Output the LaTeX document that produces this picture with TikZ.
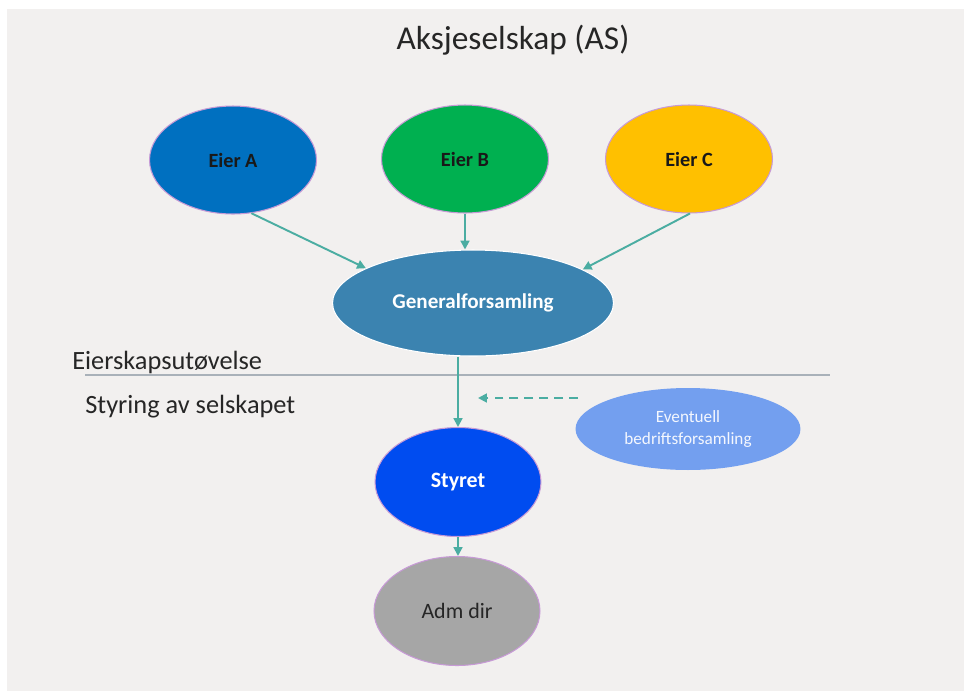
\documentclass[tikz,border=0pt]{standalone}
\usepackage{fontspec}
\setmainfont{Carlito}
\usetikzlibrary{arrows.meta,positioning,shapes.geometric}
\definecolor{bggrey}{HTML}{F2F0EF}
\definecolor{eierA}{HTML}{0070C0}
\definecolor{eierB}{HTML}{00B050}
\definecolor{eierC}{HTML}{FFC000}
\definecolor{genfors}{HTML}{3B83B0}
\definecolor{styret}{HTML}{004CF0}
\definecolor{admdir}{HTML}{A6A6A6}
\definecolor{bedrift}{HTML}{739FEF}
\definecolor{rim}{HTML}{C79AD6}
\definecolor{arrowteal}{HTML}{4BADA2}
\definecolor{divider}{HTML}{A9B1B9}
\tikzset{%
	blob/.style     = {draw=rim, line width=0.6pt, ellipse, inner sep=0pt, text centered, align=center},
	owner/.style    = {blob, minimum width=3.34cm, minimum height=2.16cm, text=black!90, font=\bfseries\fontsize{11.5}{13}\selectfont},
	body/.style     = {blob, minimum width=3.32cm, minimum height=2.18cm},
	label/.style    = {inner sep=0pt, anchor=west, text=black!85, font=\fontsize{15}{17}\selectfont},
	arrow/.style    = {draw=arrowteal, line width=1.1pt, -{Triangle[length=5pt,width=5pt]}},
	dasharrow/.style= {arrow, dash pattern=on 5pt off 3.5pt},
}
\begin{document}
\begin{tikzpicture}[x=0.02cm,y=-0.02cm]
	\useasboundingbox (0,0) rectangle (964,691);
	\fill[bggrey] (7,9) rectangle (964,691);
	
	\node[text=black!85, font=\fontsize{19}{22}\selectfont] (title) at (513,40) {Aksjeselskap (AS)};
	
	% owners
	\node[owner, fill=eierA] (A) at (233,160) {Eier A};
	\node[owner, fill=eierB] (B) at (465,159) {Eier B};
	\node[owner, fill=eierC] (C) at (689,159) {Eier C};
	
	\node[blob, draw=white, fill=genfors, text=white, minimum width=5.62cm, minimum height=2.12cm, font=\bfseries\fontsize{12}{14}\selectfont] (G) at (473,303) {Generalforsamling};
	
	% divider
	\coordinate (divL) at (85,375);
	\coordinate (divR) at (830,375);
	\draw[divider, line width=0.8pt] (divL) -- (divR);
	\node[label] (eier) at (72,362) {Eierskapsutøvelse};
	\node[label] (styring) at (85,407) {Styring av selskapet};
	
	\node[body, fill=styret, text=white, font=\bfseries\fontsize{12.5}{14}\selectfont] (S) at (458,482) {Styret};
	\node[body, fill=admdir, text=black!85, font=\fontsize{12.5}{14}\selectfont] (D) at (457,611) {Adm dir};
	\node[blob, draw=none, fill=bedrift, text=white!92!bedrift, minimum width=4.5cm, minimum height=1.64cm, font=\fontsize{9.8}{12}\selectfont] (E) at (688,429) {Eventuell\\bedriftsforsamling};
	
	% connectors
	\draw[arrow] (A.-71) -- (G.162);
	\draw[arrow] (B.south) -- (G.north -| B.south);
	\draw[arrow] (C.-89) -- (G.17);
	\draw[arrow] (G.south -| S.north) -- (S.north);
	\draw[arrow] (S.south) -- (D.north -| S.south);
	\coordinate (dashend) at (478,398);
	\draw[dasharrow] (578,398) -- (dashend);
\end{tikzpicture}
\end{document}
